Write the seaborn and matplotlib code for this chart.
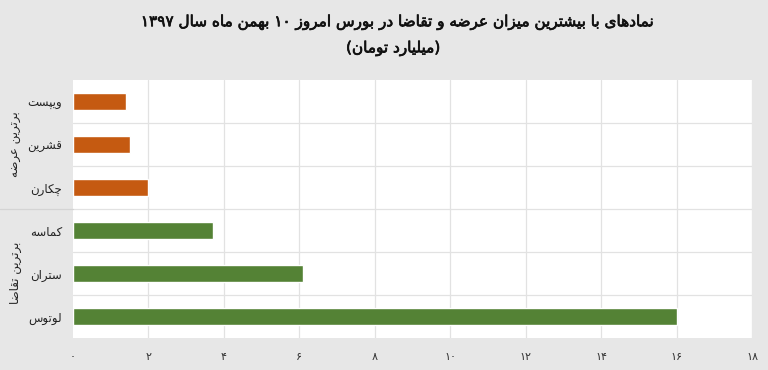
import matplotlib
matplotlib.use("Agg")
import matplotlib.pyplot as plt
import matplotlib.patheffects as pe
import seaborn as sns
import pandas as pd
from matplotlib.lines import Line2D

# ---------------- data ----------------
title_line1 = "نمادهای با بیشترین میزان عرضه و تقاضا در بورس امروز ۱۰ بهمن ماه سال ۱۳۹۷"
title_line2 = "(میلیارد تومان)"
symbols = ["ویپست", "قشرین", "چکارن", "کماسه", "ستران", "لوتوس"]
values = [1.4, 1.5, 2.0, 3.7, 6.1, 16.0]
groups = ["برترین عرضه", "برترین عرضه", "برترین عرضه",
          "برترین تقاضا", "برترین تقاضا", "برترین تقاضا"]
group_names = ["برترین عرضه", "برترین تقاضا"]
x_ticks = [0, 2, 4, 6, 8, 10, 12, 14, 16, 18]
x_tick_labels = ["۰", "۲", "۴", "۶", "۸", "۱۰", "۱۲", "۱۴", "۱۶", "۱۸"]
colors = {"برترین عرضه": "#c55a11", "برترین تقاضا": "#548235"}

# ------------- minimal Persian shaping -------------
FORMS = {  # isolated, final, initial, medial
    "ا": ("\uFE8D", "\uFE8E", None, None),
    "د": ("\uFEA9", "\uFEAA", None, None),
    "ر": ("\uFEAD", "\uFEAE", None, None),
    "ز": ("\uFEAF", "\uFEB0", None, None),
    "و": ("\uFEED", "\uFEEE", None, None),
    "ب": ("\uFE8F", "\uFE90", "\uFE91", "\uFE92"),
    "پ": ("\uFB56", "\uFB57", "\uFB58", "\uFB59"),
    "ت": ("\uFE95", "\uFE96", "\uFE97", "\uFE98"),
    "چ": ("\uFB7A", "\uFB7B", "\uFB7C", "\uFB7D"),
    "س": ("\uFEB1", "\uFEB2", "\uFEB3", "\uFEB4"),
    "ش": ("\uFEB5", "\uFEB6", "\uFEB7", "\uFEB8"),
    "ض": ("\uFEBD", "\uFEBE", "\uFEBF", "\uFEC0"),
    "ع": ("\uFEC9", "\uFECA", "\uFECB", "\uFECC"),
    "ق": ("\uFED5", "\uFED6", "\uFED7", "\uFED8"),
    "ک": ("\uFB8E", "\uFB8F", "\uFB90", "\uFB91"),
    "ل": ("\uFEDD", "\uFEDE", "\uFEDF", "\uFEE0"),
    "م": ("\uFEE1", "\uFEE2", "\uFEE3", "\uFEE4"),
    "ن": ("\uFEE5", "\uFEE6", "\uFEE7", "\uFEE8"),
    "ه": ("\uFEE9", "\uFEEA", "\uFEEB", "\uFEEC"),
    "ی": ("\uFBFC", "\uFBFD", "\uFBFE", "\uFBFF"),
}


def dual(c):
    return c in FORMS and FORMS[c][2] is not None


def shape(text):
    out = []
    n = len(text)
    for i, c in enumerate(text):
        if c not in FORMS:
            out.append(c)
            continue
        prev = text[i - 1] if i > 0 else ""
        nxt = text[i + 1] if i < n - 1 else ""
        jp = dual(prev)
        jn = dual(c) and nxt in FORMS
        iso, fin, ini, med = FORMS[c]
        if jp and jn:
            out.append(med)
        elif jp:
            out.append(fin)
        elif jn:
            out.append(ini)
        else:
            out.append(iso)
    s = "".join(out)[::-1]
    # restore LTR digit runs and mirror parentheses
    res, run = [], []
    for ch in s:
        if "\u06F0" <= ch <= "\u06F9" or ch.isdigit():
            run.append(ch)
        else:
            if run:
                res.extend(run[::-1]); run = []
            res.append({"(": ")", ")": "("}.get(ch, ch))
    if run:
        res.extend(run[::-1])
    return "".join(res)


# ---------------- plot ----------------
sns.set_theme(style="white")
plt.rcParams["font.family"] = ["DejaVu Sans"]

df = pd.DataFrame({"symbol": symbols, "value": values, "group": groups})

fig = plt.figure(figsize=(7.68, 3.70), dpi=100)
fig.patch.set_facecolor("#e7e7e7")
ax = fig.add_axes([73 / 768, 1 - 338 / 370, (752 - 73) / 768, (338 - 80) / 370])
ax.set_facecolor("white")

sns.barplot(data=df, y="symbol", x="value", hue="group", palette=colors,
            order=symbols, orient="h", width=0.38, dodge=False, legend=False,
            saturation=1, ax=ax)

ax.set_xlim(0, 18)
ax.set_ylim(len(symbols) - 0.5, -0.5)
ax.set_xticks(x_ticks)
ax.set_xticklabels(x_tick_labels, fontsize=8, color="#333333")
ax.tick_params(axis="x", length=0, pad=10)
ax.set_yticks(range(len(symbols)))
ax.set_yticklabels([shape(s) for s in symbols], fontsize=8.5, color="#222222")
ax.tick_params(axis="y", length=0, pad=8)
ax.set_xlabel("")
ax.set_ylabel("")

for x in x_ticks[1:]:
    ax.axvline(x, color="#e2e2e2", lw=0.9, zorder=0)
for k in range(1, len(symbols)):
    ax.axhline(k - 0.5, color="#e2e2e2", lw=0.9, zorder=0)
for sp in ax.spines.values():
    sp.set_visible(False)

# group separator line in the left margin
ysep = 1 - 209 / 370
fig.add_artist(Line2D([0.0, 73 / 768], [ysep, ysep], color="#d4d4d4", lw=0.9))

# group labels (rotated)
centers = {group_names[0]: 1 - 144 / 370, group_names[1]: 1 - 273 / 370}
for g in group_names:
    fig.text(16 / 768, centers[g], shape(g), rotation=90, ha="center",
             va="center", fontsize=8.5, color="#222222")

# title
stroke = [pe.withStroke(linewidth=0.5, foreground="#111111")]
fig.text(397 / 768, 1 - 22 / 370, shape(title_line1), ha="center", va="center",
         fontsize=11, color="#111111", path_effects=stroke)
fig.text(393 / 768, 1 - 48 / 370, shape(title_line2), ha="center", va="center",
         fontsize=11, color="#111111", path_effects=stroke)

fig.savefig("out.png", dpi=100, facecolor=fig.get_facecolor())
